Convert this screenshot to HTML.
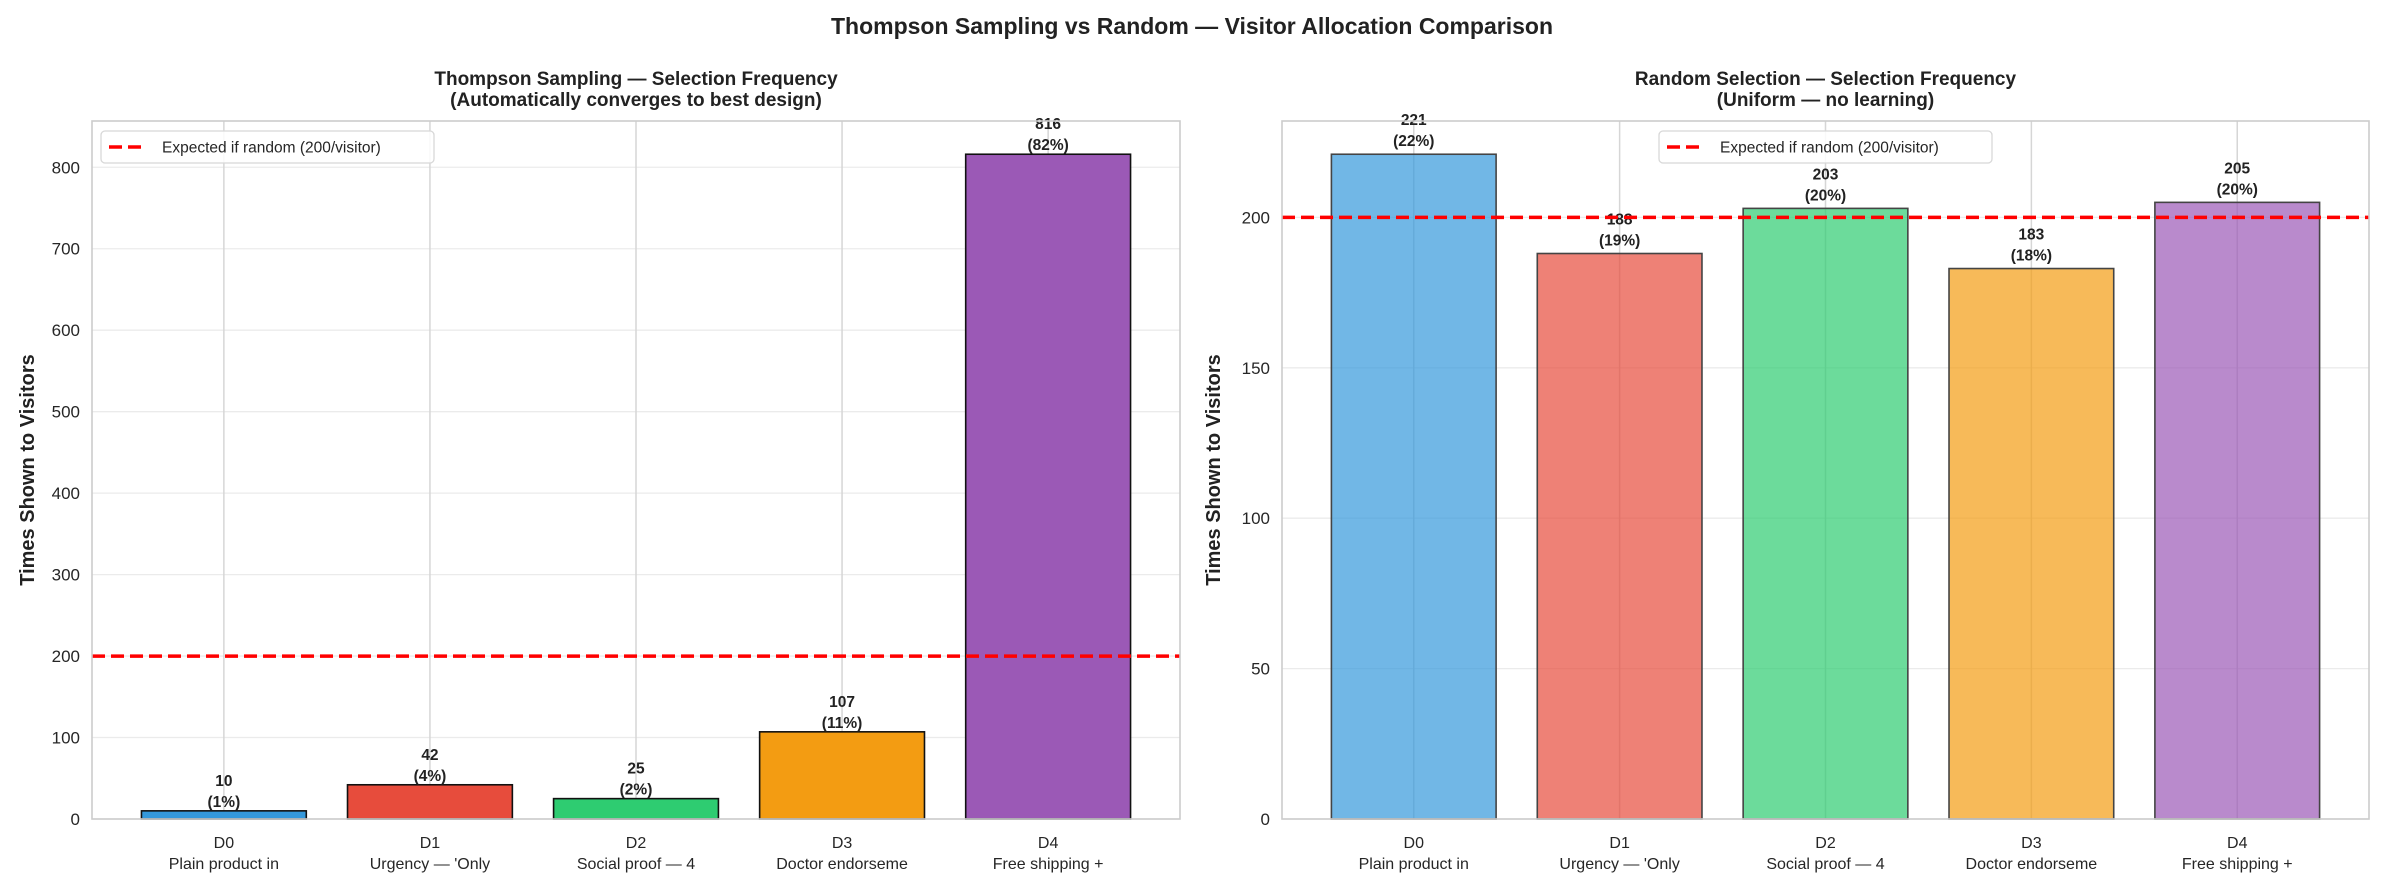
<!DOCTYPE html>
<html><head><meta charset="utf-8"><style>
html,body{margin:0;padding:0;background:#fff}
svg{display:block;font-family:"Liberation Sans",Arial,sans-serif}
</style></head><body>
<svg id="chart" width="2384" height="888" viewBox="0 0 2384 888" xmlns="http://www.w3.org/2000/svg">
<text x="1192" y="34" text-anchor="middle" font-size="23" font-weight="bold" fill="#222">Thompson Sampling vs Random — Visitor Allocation Comparison</text>
<g id="left"></g>
<g id="right"></g>
</svg>
<script>
const categories = ["D0","D1","D2","D3","D4"];
const categoryDescriptions = ["Plain product in","Urgency — 'Only","Social proof — 4","Doctor endorseme","Free shipping +"];
const thompsonCounts = [10, 42, 25, 107, 816];
const randomCounts = [221, 188, 203, 183, 205];
const leftTicks = [0,100,200,300,400,500,600,700,800];
const rightTicks = [0,50,100,150,200];
const expectedValue = 200;
const totalVisitors = 1000;
const colors = ["#3498db","#e74c3c","#2ecc71","#f39c12","#9b59b6"];

const NS = "http://www.w3.org/2000/svg";
function mk(parent, tag, attrs, text){
  const e = document.createElementNS(NS, tag);
  for (const k in attrs) e.setAttribute(k, attrs[k]);
  if (text !== undefined) e.textContent = text;
  parent.appendChild(e);
  return e;
}
function roundHalfEven(x){
  const f = Math.floor(x), d = x - f;
  if (Math.abs(d - 0.5) < 1e-9) return (f % 2 === 0) ? f : f + 1;
  return Math.round(x);
}

function panel(gid, cfg){
  const g = document.getElementById(gid);
  const L = cfg.left, R = cfg.right, T = 121, B = 819;
  const n = categories.length;
  const step = (R - L) / (n - 1 + 2*0.64);
  const xs = i => L + step*(0.64 + i);
  const ymax = Math.max(...cfg.values) * 1.05;
  const ys = v => B - v/ymax*(B - T);
  cfg.ticks.forEach(t => {
    const gl = mk(g, "line", {x1:L, x2:R, y1:ys(t), y2:ys(t), stroke:"#ebebeb", "stroke-width":1.3});
    
    
    const tl = mk(g, "text", {x:L-12, y:ys(t)+6, "text-anchor":"end", "font-size":17, fill:"#262626"}, String(t));
    
    
  });
  categories.forEach((c,i) => {
    const vl = mk(g, "line", {x1:xs(i), x2:xs(i), y1:T, y2:B, stroke:"#d6d6d6", "stroke-width":1.5});
    
    
  });
  const bw = step*0.8;
  cfg.values.forEach((v,i) => {
    const r = mk(g, "rect", {x:xs(i)-bw/2, y:ys(v), width:bw, height:B-ys(v), fill:colors[i], "fill-opacity":cfg.alpha, stroke:cfg.edge, "stroke-width":1.6});
    
    
    const pct = roundHalfEven(v/totalVisitors*100);
    const t1 = mk(g, "text", {x:xs(i), y:ys(v)-cfg.lab1, "text-anchor":"middle", "font-size":15.5, "font-weight":"bold", fill:"#222"}, String(v));
    
    
    const t2 = mk(g, "text", {x:xs(i), y:ys(v)-cfg.lab2, "text-anchor":"middle", "font-size":15.5, "font-weight":"bold", fill:"#222"}, "(" + pct + "%)");
    
    
    const x1 = mk(g, "text", {x:xs(i), y:848, "text-anchor":"middle", "font-size":16, fill:"#262626"}, categories[i]);
    
    
    const x2 = mk(g, "text", {x:xs(i), y:869, "text-anchor":"middle", "font-size":16, fill:"#262626"}, categoryDescriptions[i]);
    
    
  });
  const el = mk(g, "line", {x1:L, x2:R, y1:ys(expectedValue), y2:ys(expectedValue), stroke:"#ff0000", "stroke-width":3.5, "stroke-dasharray":"13,6"});
  
  
  const fr = mk(g, "rect", {x:L, y:T, width:R-L, height:B-T, fill:"none", stroke:"#cccccc", "stroke-width":1.6});
  
  
  const cx = (L+R)/2;
  const s1 = mk(g, "text", {x:cx, y:85, "text-anchor":"middle", "font-size":19, "font-weight":"bold", fill:"#222"}, cfg.title1);
  
  
  const s2 = mk(g, "text", {x:cx, y:106, "text-anchor":"middle", "font-size":19, "font-weight":"bold", fill:"#222"}, cfg.title2);
  
  
  const yl = mk(g, "text", {x:cfg.ylx, y:(T+B)/2, "text-anchor":"middle", "font-size":20, "font-weight":"bold", fill:"#222", transform:"rotate(-90 "+cfg.ylx+" "+((T+B)/2)+")"}, "Times Shown to Visitors");
  
  
  const lg = mk(g, "g", {});
  
  
  const lx = cfg.legX, ly = 131;
  mk(lg, "rect", {x:lx, y:ly, width:333, height:32, rx:4, fill:"#fff", "fill-opacity":0.85, stroke:"#d8d8d8", "stroke-width":1.3});
  mk(lg, "line", {x1:lx+8, x2:lx+46, y1:ly+16, y2:ly+16, stroke:"#ff0000", "stroke-width":3.5, "stroke-dasharray":"13,6"});
  mk(lg, "text", {x:lx+61, y:ly+21.5, "font-size":15.5, fill:"#262626"}, "Expected if random (200/visitor)");
}

panel("left", {left:92, right:1180, values:thompsonCounts, ticks:leftTicks, alpha:1, edge:"#111", lab1:25, lab2:4,
  title1:"Thompson Sampling — Selection Frequency", title2:"(Automatically converges to best design)", ylx:34, legX:101});
panel("right", {left:1282, right:2369, values:randomCounts, ticks:rightTicks, alpha:0.7, edge:"#444", lab1:29, lab2:8,
  title1:"Random Selection — Selection Frequency", title2:"(Uniform — no learning)", ylx:1220, legX:1659});
</script>
</body></html>
